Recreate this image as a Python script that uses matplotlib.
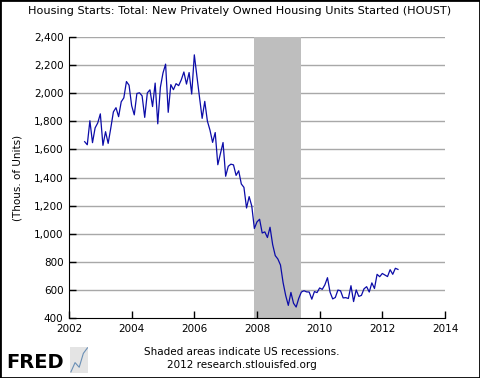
import matplotlib
matplotlib.use("Agg")
import matplotlib.pyplot as plt
from matplotlib.patches import Rectangle
from matplotlib.ticker import FuncFormatter
import numpy as np

# Monthly housing starts (thousands, SAAR), Jul 2002 - Jul 2012
start_year = 2002
start_month = 7
houst = [
    1655, 1633, 1804, 1648, 1753, 1788,
    1853, 1629, 1726, 1643, 1751, 1867, 1897, 1833, 1939, 1967, 2083, 2057,
    1911, 1846, 1998, 2003, 1981, 1828, 2002, 2024, 1905, 2072, 1782, 2042,
    2144, 2207, 1864, 2061, 2025, 2068, 2054, 2095, 2151, 2065, 2147, 1994,
    2273, 2119, 1969, 1821, 1942, 1802, 1737, 1650, 1720, 1491, 1570, 1649,
    1409, 1480, 1495, 1490, 1415, 1448, 1354, 1330, 1183, 1264, 1197, 1037,
    1084, 1103, 1005, 1013, 973, 1046, 923, 844, 820, 777, 652, 560,
    490, 582, 505, 478, 540, 585, 594, 586, 585, 534, 588, 581,
    614, 604, 636, 687, 583, 536, 546, 599, 594, 543, 545, 539,
    630, 517, 600, 554, 561, 608, 623, 585, 650, 610, 711, 694,
    717, 706, 695, 744, 711, 754, 746,
]
# recession: Dec 2007 - Jun 2009
recession = (2007 + 11 / 12, 2009 + 5 / 12)
x_ticks = [2002, 2004, 2006, 2008, 2010, 2012, 2014]
y_ticks = [400, 600, 800, 1000, 1200, 1400, 1600, 1800, 2000, 2200, 2400]

months = np.arange(len(houst))
x = start_year + (start_month - 1 + months) / 12.0

fig = plt.figure(figsize=(4.8, 3.78), dpi=100)
ax = fig.add_axes([0.14375, 0.1587, 0.927 - 0.14375, 0.9021 - 0.1587])

ax.axvspan(recession[0], recession[1], color="#bebebe", lw=0, zorder=1)
for yt in y_ticks[1:]:
    ax.axhline(yt, color="#a8a8a8", lw=1, zorder=0)
ax.plot(x, houst, color="#0c0ca8", lw=0.9, zorder=3)

ax.set_xlim(2002, 2014)
ax.set_ylim(400, 2400)
ax.set_xticks(x_ticks)
ax.set_yticks(y_ticks)
ax.yaxis.set_major_formatter(FuncFormatter(lambda v, p: f"{int(v):,}"))
ax.tick_params(direction="in", length=5, width=1, labelsize=7.5, pad=4)
for s in ["top", "right"]:
    ax.spines[s].set_visible(False)
ax.set_ylabel("(Thous. of Units)", fontsize=7.5, labelpad=8)

fig.text(0.5, 0.972, "Housing Starts: Total: New Privately Owned Housing Units Started (HOUST)",
         ha="center", va="center", fontsize=8.1)
fig.text(0.503, 0.069, "Shaded areas indicate US recessions.", ha="center", va="center", fontsize=7.5)
fig.text(0.503, 0.034, "2012 research.stlouisfed.org", ha="center", va="center", fontsize=7.5)
fig.text(0.013, 0.042, "FRED", ha="left", va="center", fontsize=14, fontweight="bold")

# small logo chart next to FRED
lax = fig.add_axes([0.146, 0.013, 0.038, 0.07])
lax.set_facecolor("#e4e4e4")
lax.plot([0, 1, 2, 3, 4], [1, 2, 1.5, 3, 3.6], color="#6a8fb5", lw=0.8)
lax.set_xticks([])
lax.set_yticks([])
for s in lax.spines.values():
    s.set_visible(False)

fig.patches.append(Rectangle((0, 0), 1, 1, transform=fig.transFigure, fill=False,
                             edgecolor="black", lw=2))

fig.savefig("out.png", dpi=100)
